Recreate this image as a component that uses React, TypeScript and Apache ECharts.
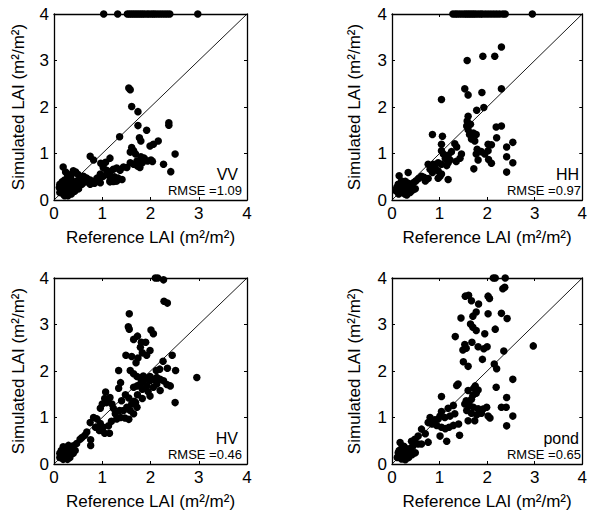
import React, { useEffect, useRef } from "react";
import * as echarts from "echarts";

// ---------- data (Reference LAI, Simulated LAI) ----------
const vvPoints: number[][] = [
  [1.03, 4], [1.32, 4], [1.52, 4], [1.56, 4], [1.6, 4], [1.64, 4], [1.68, 4], [1.72, 4], [1.76, 4], [1.8, 4],
  [1.84, 4], [1.88, 4], [1.93, 4], [1.97, 4], [2.02, 4], [2.06, 4], [2.1, 4], [2.15, 4], [2.2, 4], [2.25, 4],
  [2.3, 4], [2.35, 4], [2.4, 4], [2.98, 4],
  [1.55, 2.41], [1.58, 2.37], [1.61, 2.01], [1.74, 1.9], [1.74, 1.6], [2.38, 1.66], [2.38, 1.61], [1.92, 1.5],
  [1.36, 1.36], [1.77, 1.34], [1.8, 1.27], [2.16, 1.27], [2.06, 1.2], [1.99, 1.16], [1.61, 1.13], [1.65, 1.06],
  [1.69, 0.99], [1.58, 1.03], [2.51, 0.99], [0.75, 0.94], [0.82, 0.86], [1.16, 0.9], [1.07, 0.81], [0.97, 0.79],
  [1.8, 0.93], [1.87, 0.9], [1.94, 0.84], [2.01, 0.86], [2.04, 0.83], [1.72, 0.84], [1.65, 0.77], [1.58, 0.8],
  [1.83, 0.8], [1.73, 0.73], [1.78, 0.7], [2.27, 0.77], [2.42, 0.61],
  [1.02, 0.7], [1.09, 0.64], [1.16, 0.61], [1.23, 0.66], [1.3, 0.69], [1.37, 0.64], [1.44, 0.71], [1.51, 0.7],
  [0.96, 0.56], [1.02, 0.51], [1.13, 0.53], [1.25, 0.5], [1.33, 0.47], [1.41, 0.44],
  [0.89, 0.47], [0.94, 0.43], [1.16, 0.41], [1.23, 0.4], [1.3, 0.41],
  [0.61, 0.51], [0.68, 0.47], [0.75, 0.43], [0.83, 0.4], [0.66, 0.39], [0.58, 0.34], [0.54, 0.44], [0.47, 0.41],
  [0.19, 0.71], [0.4, 0.63], [0.37, 0.56], [0.33, 0.51], [0.28, 0.47], [0.22, 0.43], [0.17, 0.39], [0.12, 0.34],
  [0.11, 0.27], [0.15, 0.23], [0.19, 0.2], [0.24, 0.16], [0.28, 0.13], [0.19, 0.13], [0.12, 0.16], [0.33, 0.2],
  [0.4, 0.27], [0.47, 0.3], [0.51, 0.24], [0.43, 0.37], [0.36, 0.41], [0.3, 0.34], [0.25, 0.29], [0.18, 0.29],
  [0.22, 0.09], [0.29, 0.09], [0.36, 0.13], [0.43, 0.19],
  [0.75, 0.34], [0.84, 0.36], [0.96, 0.37], [1.16, 0.39], [1.27, 0.41],
  [0.2, 0.35], [0.25, 0.4], [0.3, 0.25], [0.22, 0.25], [0.27, 0.2], [0.32, 0.3], [0.35, 0.45], [0.28, 0.55],
  [0.24, 0.6], [0.45, 0.6], [0.5, 0.55],
];

const hhPoints: number[][] = [
  [1.28, 4], [1.33, 4], [1.37, 4], [1.42, 4], [1.47, 4], [1.52, 4], [1.56, 4], [1.6, 4], [1.64, 4], [1.68, 4],
  [1.72, 4], [1.76, 4], [1.81, 4], [1.86, 4], [1.9, 4], [1.96, 4], [2.02, 4], [2.08, 4], [2.14, 4], [2.2, 4],
  [2.26, 4], [2.33, 4], [2.38, 4], [2.95, 4],
  [2.3, 3.29], [1.58, 3.0], [1.91, 3.09], [2.16, 3.09], [1.53, 2.39], [1.6, 2.26], [1.89, 2.31], [1.04, 2.16],
  [2.3, 2.39], [1.93, 1.99], [1.78, 1.93],
  [1.6, 1.8], [1.58, 1.7], [1.57, 1.59], [1.6, 1.51], [1.63, 1.41],
  [1.65, 1.63], [1.71, 1.44], [1.77, 1.41], [1.67, 1.31], [1.74, 1.27],
  [2.19, 1.57], [2.3, 1.59], [2.2, 1.34], [2.02, 1.2], [2.09, 1.19],
  [0.85, 1.41], [1.06, 1.37],
  [2.41, 1.14], [2.54, 1.24], [2.41, 0.93], [2.54, 0.8], [2.41, 0.6],
  [1.79, 1.09], [1.77, 0.99], [1.81, 0.86], [1.88, 1.04], [1.95, 0.99], [2.02, 1.06], [2.03, 0.87], [2.09, 0.79],
  [1.72, 0.67],
  [1.32, 1.21], [1.36, 1.14], [1.25, 1.04], [1.18, 0.96], [1.22, 0.86], [1.18, 0.8], [1.35, 0.83], [1.43, 0.9],
  [1.46, 0.99],
  [1.04, 1.2], [1.04, 1.06], [1.08, 0.99], [1.12, 0.89], [1.04, 0.77], [0.97, 0.8], [0.9, 0.7], [0.97, 0.63],
  [0.87, 0.77], [0.76, 0.77], [0.8, 0.66], [0.85, 0.59],
  [1.15, 0.74], [1.18, 0.44], [1.01, 0.51], [0.97, 0.47], [1.04, 0.56],
  [0.62, 0.51], [0.67, 0.49], [0.56, 0.46], [0.5, 0.41], [0.45, 0.37], [0.41, 0.33], [0.7, 0.41], [0.76, 0.46],
  [0.34, 0.59],
  [0.13, 0.34], [0.17, 0.27], [0.2, 0.2], [0.22, 0.16], [0.27, 0.13], [0.31, 0.19], [0.35, 0.23], [0.41, 0.27],
  [0.24, 0.3], [0.2, 0.41], [0.15, 0.52], [0.1, 0.27], [0.08, 0.2], [0.14, 0.13], [0.31, 0.11], [0.38, 0.16],
  [0.43, 0.21], [0.49, 0.24], [0.34, 0.36], [0.28, 0.4], [0.25, 0.35], [0.3, 0.28], [0.2, 0.32],
];

const hvPoints: number[][] = [
  [2.1, 4.0], [2.15, 4.0], [2.27, 3.96], [2.28, 3.5], [2.35, 3.46], [1.56, 3.23], [1.54, 2.95], [1.56, 2.9],
  [1.73, 2.75], [2.01, 2.88], [2.06, 2.8], [1.9, 2.62],
  [1.65, 2.68], [1.81, 2.62], [1.79, 2.51], [1.83, 2.39], [1.74, 2.28], [1.7, 2.18], [1.61, 2.31], [1.49, 2.34],
  [1.99, 2.44], [1.92, 2.34], [2.45, 2.34], [2.35, 2.06], [2.52, 2.01], [2.26, 2.21], [2.19, 2.04], [2.12, 2.01],
  [1.34, 2.01], [2.96, 1.86], [2.51, 1.32],
  [1.58, 2.01], [1.65, 1.94], [1.72, 1.88], [1.79, 1.85], [1.85, 1.89], [1.92, 1.84], [1.99, 1.88], [2.06, 1.82],
  [2.13, 1.86], [2.2, 1.82], [2.27, 1.79], [2.34, 1.71], [2.41, 1.68], [1.99, 1.79], [1.85, 1.78], [1.79, 1.72],
  [1.72, 1.68], [1.65, 1.65], [1.92, 1.68], [1.83, 1.61], [1.95, 1.56], [2.06, 1.65], [1.99, 1.46], [2.13, 1.72],
  [2.2, 1.58], [1.73, 1.49], [1.83, 1.41], [1.66, 1.35], [1.61, 1.29], [1.55, 1.42], [1.48, 1.49], [1.38, 1.75],
  [1.34, 1.63], [1.4, 1.36],
  [1.07, 1.55], [1.16, 1.43], [1.05, 1.41], [1.0, 1.29], [0.96, 1.2], [1.09, 1.32], [1.2, 1.29], [1.23, 1.2],
  [1.27, 1.08], [1.3, 0.97], [1.19, 0.92], [1.13, 0.82], [1.02, 0.79], [0.96, 0.87], [0.89, 0.97], [0.82, 1.0],
  [0.75, 0.89], [0.86, 0.79], [0.94, 0.72], [1.05, 0.66], [1.15, 0.66],
  [0.68, 0.69], [0.64, 0.62], [0.58, 0.57], [0.76, 0.52], [0.76, 0.4], [0.54, 0.53], [0.47, 0.44], [0.4, 0.39],
  [0.33, 0.33],
  [0.19, 0.37], [0.24, 0.33], [0.15, 0.29], [0.12, 0.23], [0.17, 0.19], [0.22, 0.14], [0.26, 0.2], [0.3, 0.24],
  [0.35, 0.29], [0.37, 0.36], [0.4, 0.23], [0.44, 0.29], [0.28, 0.1], [0.19, 0.1], [0.12, 0.14], [0.33, 0.14],
  [0.25, 0.27], [0.2, 0.3], [0.3, 0.4],
  [1.36, 1.15], [1.44, 1.15], [1.51, 1.22], [1.58, 1.15], [1.65, 1.08], [1.72, 1.22], [1.38, 1.0], [1.47, 0.99],
  [1.55, 0.96], [1.69, 1.32],
];

const pondPoints: number[][] = [
  [2.13, 4.0], [2.17, 4.0], [2.38, 4.0], [2.33, 3.77], [2.37, 3.8],
  [1.54, 3.61], [1.61, 3.63], [2.02, 3.61], [2.05, 3.56], [1.67, 3.51], [1.82, 3.44], [1.77, 3.27], [2.02, 3.23],
  [2.3, 3.24], [2.42, 3.13], [1.65, 3.01], [1.7, 2.94], [1.77, 2.87], [1.95, 2.8], [2.17, 2.9],
  [1.68, 2.62], [1.53, 2.57], [1.56, 2.49], [1.49, 2.45], [1.33, 2.74], [1.81, 2.52], [1.93, 2.48], [2.0, 2.52],
  [2.35, 2.43], [2.15, 2.15], [2.2, 2.05], [1.6, 2.1], [1.5, 2.2], [1.9, 2.25], [1.45, 3.14], [1.7, 3.18],
  [2.97, 2.54], [1.39, 1.72], [1.36, 1.69], [1.04, 1.45], [2.54, 1.82],
  [1.75, 1.68], [1.72, 1.63], [1.81, 1.59], [1.77, 1.52], [1.7, 1.48], [1.6, 1.58], [1.67, 1.39], [1.56, 1.36],
  [2.19, 1.65],
  [1.53, 1.29], [1.63, 1.26], [1.71, 1.22], [1.81, 1.19], [1.91, 1.18], [1.99, 1.22], [1.57, 1.15], [1.67, 1.09],
  [1.78, 1.06], [1.88, 1.09], [2.02, 1.03], [2.06, 0.99], [1.74, 0.93], [1.6, 0.93],
  [2.41, 1.43], [2.4, 1.22], [2.41, 0.82], [2.54, 1.03], [2.3, 1.22],
  [1.18, 1.2], [1.29, 1.26], [1.32, 1.08], [1.22, 1.03], [1.11, 1.0], [1.04, 1.13], [1.01, 1.03], [0.97, 0.97],
  [0.9, 0.95], [0.8, 1.0], [0.76, 0.89], [0.84, 0.86], [0.94, 0.83], [1.04, 0.79], [1.12, 0.76], [1.2, 0.79],
  [1.29, 0.83], [1.4, 0.86], [1.42, 0.62], [1.15, 0.49], [1.01, 0.6],
  [0.62, 0.75], [0.7, 0.65], [0.55, 0.6], [0.48, 0.53], [0.41, 0.49], [0.76, 0.47],
  [0.17, 0.46], [0.21, 0.36], [0.15, 0.29], [0.13, 0.24], [0.2, 0.2], [0.27, 0.17], [0.31, 0.23], [0.35, 0.29],
  [0.39, 0.34], [0.43, 0.37], [0.48, 0.43], [0.24, 0.29], [0.2, 0.11], [0.28, 0.09], [0.35, 0.14], [0.42, 0.2],
  [0.49, 0.24], [0.11, 0.14], [0.55, 0.43], [0.62, 0.43], [0.25, 0.38], [0.3, 0.33],
];

const panelNames = ["VV", "HH", "HV", "pond"];
const rmseValues = ["1.09", "0.97", "0.46", "0.65"];
const axisMin = 0;
const axisMax = 4;
const axisStep = 1;
const diagonal = [axisMin, axisMax];
const xTitle = "Reference LAI (m²/m²)";
const yTitle = "Simulated LAI (m²/m²)";

// ---------- layout ----------
const grids = [
  { left: 54, top: 14, width: 193, height: 186 },
  { left: 392, top: 14, width: 191, height: 186 },
  { left: 54, top: 278, width: 193, height: 186 },
  { left: 392, top: 278, width: 191, height: 186 },
];
const nameRight = [238, 579, 238, 579];
const rmseRight = [242, 581, 242, 581];
const yNameGap = [27, 29, 27, 29];

const FONT = '"Liberation Sans", Arial, Helvetica, sans-serif';

export default function App() {
  const ref = useRef<HTMLDivElement>(null);
  useEffect(() => {
    if (!ref.current) return;
    const chart = echarts.init(ref.current, undefined, { renderer: "svg" });
    const datasets = [vvPoints, hhPoints, hvPoints, pondPoints];
    const xAxis: any[] = [];
    const yAxis: any[] = [];
    const series: any[] = [];
    const graphic: any[] = [];
    grids.forEach((g, i) => {
      const common = {
        gridIndex: i,
        type: "value",
        min: axisMin,
        max: axisMax,
        interval: axisStep,
        splitLine: { show: false },
        axisLine: { show: true, onZero: false, lineStyle: { color: "#000", width: 1.3 } },
        axisTick: { show: true, inside: true, length: 3, lineStyle: { color: "#000" } },
      };
      xAxis.push({
        ...common,
        position: "bottom",
        axisLabel: { color: "#000", fontSize: 17, fontFamily: FONT, margin: 5 },
        name: xTitle,
        nameLocation: "middle",
        nameGap: 29,
        nameTextStyle: { color: "#000", fontSize: 17, fontFamily: FONT },
      });
      xAxis.push({ ...common, position: "top", axisLabel: { show: false } });
      yAxis.push({
        ...common,
        position: "left",
        axisLabel: { color: "#000", fontSize: 17, fontFamily: FONT, margin: 5 },
        name: yTitle,
        nameLocation: "middle",
        nameGap: yNameGap[i],
        nameTextStyle: { color: "#000", fontSize: 17, fontFamily: FONT },
      });
      yAxis.push({ ...common, position: "right", axisLabel: { show: false } });
      series.push({
        type: "line",
        xAxisIndex: 2 * i,
        yAxisIndex: 2 * i,
        data: [[diagonal[0], diagonal[0]], [diagonal[1], diagonal[1]]],
        showSymbol: false,
        symbol: "none",
        lineStyle: { color: "#000", width: 0.9 },
        silent: true,
        z: 1,
      });
      series.push({
        type: "scatter",
        xAxisIndex: 2 * i,
        yAxisIndex: 2 * i,
        data: datasets[i],
        symbol: "circle",
        symbolSize: 7.5,
        itemStyle: { color: "#000", opacity: 1 },
        clip: false,
        z: 2,
      });
      graphic.push({
        type: "text",
        x: nameRight[i],
        y: g.top + 160,
        style: {
          text: panelNames[i],
          fill: "#000",
          fontSize: 16,
          fontFamily: FONT,
          textAlign: "right",
          align: "right",
          textVerticalAlign: "middle",
          verticalAlign: "middle",
        },
      });
      graphic.push({
        type: "text",
        x: rmseRight[i],
        y: g.top + 176,
        style: {
          text: "RMSE =" + rmseValues[i],
          fill: "#000",
          fontSize: 13,
          fontFamily: FONT,
          textAlign: "right",
          align: "right",
          textVerticalAlign: "middle",
          verticalAlign: "middle",
        },
      });
    });
    chart.setOption({
      animation: false,
      backgroundColor: "#fff",
      grid: grids.map((g) => ({ ...g, containLabel: false })),
      xAxis,
      yAxis,
      series,
      graphic,
    });
    return () => chart.dispose();
  }, []);
  return (
    <div
      ref={ref}
      style={{ position: "fixed", left: 0, top: 0, width: 590, height: 511, background: "#fff" }}
    />
  );
}
